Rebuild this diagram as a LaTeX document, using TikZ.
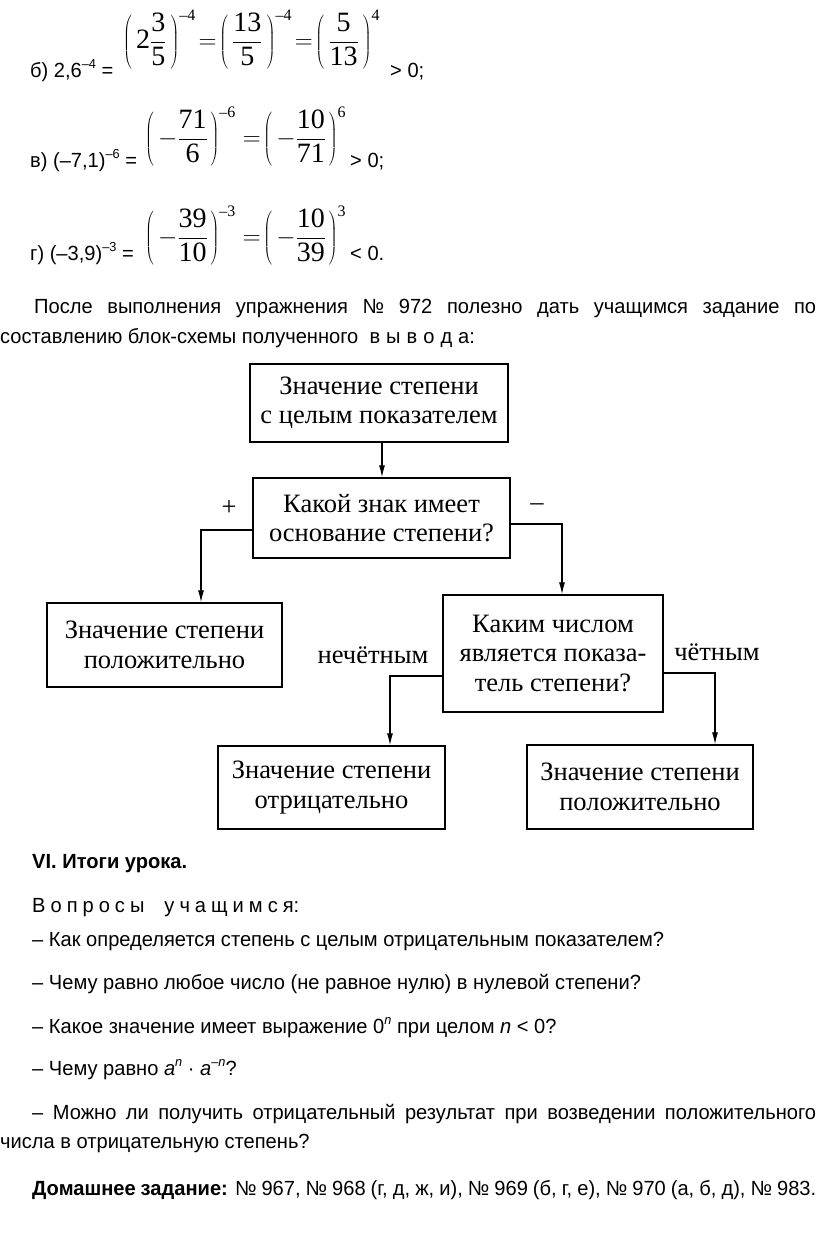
\documentclass[tikz,border=0pt]{standalone}
\usepackage{fontspec}
\setmainfont{Liberation Serif}
\newfontfamily\bodyf[FakeStretch=0.98]{Liberation Sans}
\newfontfamily\boxf{Liberation Serif}
\usetikzlibrary{arrows.meta}
\newcommand\supx[1]{\raisebox{0.42em}{\fontsize{13}{13}\selectfont #1}}
\newcommand\msup[1]{\mbox{\fontsize{16}{16}\selectfont #1}}
\newcommand\lw{\kern5pt}
\newcommand\lv{\kern6pt}
\begin{document}
\begin{tikzpicture}[x=1pt,y=-1pt,
 txt/.style={anchor=base west, inner sep=0pt, font=\bodyf\fontsize{20.5}{25}\selectfont},
 bx/.style={draw, line width=1.3pt, inner sep=0pt, align=center, font=\boxf\fontsize{26.5}{29.5}\selectfont},
 arr/.style={line width=1.2pt, -{Latex[length=12pt,width=6pt]}},
 lbl/.style={font=\boxf\fontsize{26.5}{29}\selectfont, inner sep=0pt},
 fm/.style={anchor=base west, inner sep=0pt, font=\boxf\fontsize{28}{32}\selectfont}]
\useasboundingbox[fill=white] (0,0) rectangle (816,1253);

% formulas
\node[txt] (t1) at (30,77) {б) 2,6\supx{–4} =};
\node[fm] (f1) at (123,48) {$\displaystyle\left(\,\mbox{2}\frac{\mbox{3}}{\mbox{5}}\,\right)^{\msup{–4}} \! = \!\left(\,\frac{\mbox{13}}{\mbox{5}}\,\right)^{\msup{–4}} \! = \!\left(\,\frac{\mbox{5}}{\mbox{13}}\,\right)^{\msup{4}}$};
\node[txt] (r1) at (390,77) {> 0;};

\node[txt] (t2) at (30,167) {в) (–7,1)\supx{–6} =};
\node[fm] (f2) at (145,145) {$\displaystyle\left(\,-\frac{\mbox{71}}{\mbox{6}}\mkern2mu\right)^{\msup{–6}} = \!\left(\,-\frac{\mbox{10}}{\mbox{71}}\mkern2mu\right)^{\msup{6}}$};
\node[txt] (r2) at (350,167) {> 0;};

\node[txt] (t3) at (30,260) {г) (–3,9)\supx{–3} =};
\node[fm] (f3) at (145,244) {$\displaystyle\left(\,-\frac{\mbox{39}}{\mbox{10}}\mkern2mu\right)^{\msup{–3}} = \!\left(\,-\frac{\mbox{10}}{\mbox{39}}\mkern2mu\right)^{\msup{3}}$};
\node[txt] (r3) at (350,260) {< 0.};

% paragraph
\node[txt] (p1) at (34,313) {\makebox[782pt][s]{После выполнения упражнения № 972 полезно дать учащимся задание по}};
\node[txt] (p2) at (0,343) {составлению блок-схемы полученного \ в\lv ы\lv в\lv о\lv д\lv а:};

% flowchart
\node[bx, minimum width=258pt, minimum height=78pt] (b1) at (379,403) {Значение степени\\с целым показателем};
\node[bx, minimum width=257pt, minimum height=80pt] (b2) at (381.5,518) {Какой знак имеет\\основание степени?};
\node[bx, minimum width=235pt, minimum height=84pt] (b3) at (164.5,645) {Значение степени\\положительно};
\node[bx, minimum width=220pt, minimum height=117pt] (b4) at (553,653.5) {Каким числом\\является показа-\\тель степени?};
\node[bx, minimum width=227pt, minimum height=83pt] (b5) at (331.5,787.5) {Значение степени\\отрицательно};
\node[bx, minimum width=226pt, minimum height=84pt] (b6) at (640,787) {Значение степени\\положительно};

\coordinate (c1) at (201,530);
\coordinate (c2) at (562,524);
\coordinate (c3) at (390,676);
\coordinate (c4) at (715,673);
\draw[arr] (b1.south -| 382,0) -- (b2.north -| 382,0);
\draw[arr] (b2.west |- c1) -| (c1 |- b3.north);
\draw[arr] (b2.east |- c2) -| (c2 |- b4.north);
\draw[arr] (b4.west |- c3) -| (c3 |- b5.north);
\draw[arr] (b4.east |- c4) -| (c4 |- b6.north);

\node[lbl] (lp) at (229,508) {+};
\node[lbl] (lm) at (537,507) {–};
\node[lbl] (ln) at (373,655) {нечётным};
\node[lbl] (lc) at (717,652) {чётным};

% summary
\node[txt, font=\bodyf\bfseries\fontsize{20.5}{25}\selectfont] (s1) at (32,868) {VI. Итоги урока.};
\node[txt] (s2) at (32,912) {В\lw о\lw п\lw р\lw о\lw с\lw ы\kern20pt у\lw ч\lw а\lw щ\lw и\lw м\lw с\lw я:};
\node[txt] (q1) at (32,946) {– Как определяется степень с целым отрицательным показателем?};
\node[txt] (q2) at (32,989) {– Чему равно любое число (не равное нулю) в нулевой степени?};
\node[txt] (q3) at (32,1033) {– Какое значение имеет выражение 0\supx{\itshape n} при целом \textit{n} < 0?};
\node[txt] (q4) at (32,1075) {– Чему равно \textit{a}\supx{\itshape n} · \textit{a}\supx{–\itshape n}?};
\node[txt] (q5) at (32,1119) {\makebox[784pt][s]{– Можно ли получить отрицательный результат при возведении положительного}};
\node[txt] (q6) at (0,1148) {числа в отрицательную степень?};
\node[txt] (hw) at (32,1195) {\makebox[784pt][s]{\textbf{Домашнее задание:} № 967, № 968 (г, д, ж, и), № 969 (б, г, е), № 970 (а, б, д), № 983.}};
\end{tikzpicture}
\end{document}
